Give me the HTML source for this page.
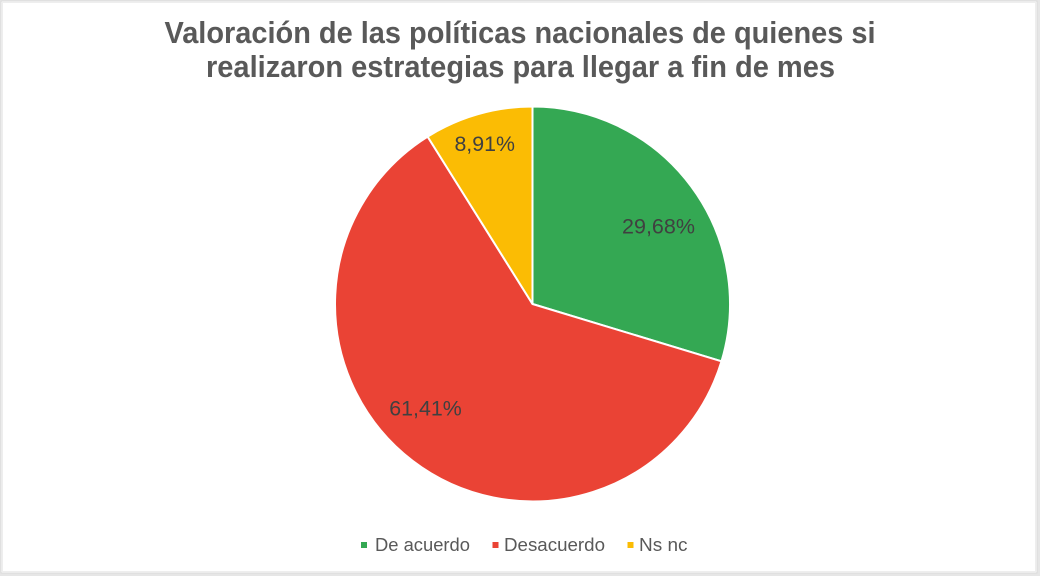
<!DOCTYPE html>
<html>
<head>
<meta charset="utf-8">
<style>
  html, body { margin: 0; padding: 0; background: #ffffff; }
  svg { display: block; }
  text { font-family: "Liberation Sans", Arial, sans-serif; }
</style>
</head>
<body>
<svg width="1040" height="576" viewBox="0 0 1040 576" xmlns="http://www.w3.org/2000/svg">
  <rect x="0" y="0" width="1040" height="576" fill="#e6e6e6"/>
  <rect x="1" y="1" width="1036" height="572" fill="#ffffff" stroke="#d9d9d9" stroke-width="1"/>
  <rect x="2.5" y="2.5" width="1033" height="569" fill="none" stroke="#eeeeee" stroke-width="1"/>

  <!-- Title -->
  <text x="520" y="43" text-anchor="middle" font-size="31" font-weight="bold" fill="#595959" textLength="711" lengthAdjust="spacingAndGlyphs">Valoración de las políticas nacionales de quienes si</text>
  <text x="520.5" y="77" text-anchor="middle" font-size="31" font-weight="bold" fill="#595959" textLength="629" lengthAdjust="spacingAndGlyphs">realizaron estrategias para llegar a fin de mes</text>

  <!-- Pie: center (532.5,304), r=197.5 -->
  <!-- Green 0 -> 106.85 deg -->
  <path d="M532.5,304 L532.5,106.5 A197.5,197.5 0 0,1 721.5,361.3 Z" fill="#34A853" stroke="#ffffff" stroke-width="2" stroke-linejoin="round"/>
  <!-- Red 106.85 -> 327.93 deg -->
  <path d="M532.5,304 L721.5,361.3 A197.5,197.5 0 1,1 427.6,136.6 Z" fill="#EA4335" stroke="#ffffff" stroke-width="2" stroke-linejoin="round"/>
  <!-- Yellow 327.93 -> 360 deg -->
  <path d="M532.5,304 L427.6,136.6 A197.5,197.5 0 0,1 532.5,106.5 Z" fill="#FBBC04" stroke="#ffffff" stroke-width="2" stroke-linejoin="round"/>

  <!-- Data labels -->
  <text x="658.5" y="233.5" text-anchor="middle" font-size="21.5" fill="#404040" textLength="73" lengthAdjust="spacingAndGlyphs">29,68%</text>
  <text x="484.7" y="151" text-anchor="middle" font-size="21.5" fill="#404040" textLength="60.5" lengthAdjust="spacingAndGlyphs">8,91%</text>
  <text x="425.5" y="415.5" text-anchor="middle" font-size="21.5" fill="#404040" textLength="72.5" lengthAdjust="spacingAndGlyphs">61,41%</text>

  <!-- Legend -->
  <rect x="361" y="542" width="6" height="6" fill="#34A853"/>
  <text x="375" y="551" font-size="18.5" fill="#595959" textLength="95" lengthAdjust="spacingAndGlyphs">De acuerdo</text>
  <rect x="492.5" y="542" width="6" height="6" fill="#EA4335"/>
  <text x="504" y="551" font-size="18.5" fill="#595959" textLength="101" lengthAdjust="spacingAndGlyphs">Desacuerdo</text>
  <rect x="627.5" y="542" width="6" height="6" fill="#FBBC04"/>
  <text x="639" y="551" font-size="18.5" fill="#595959" textLength="48.5" lengthAdjust="spacingAndGlyphs">Ns nc</text>
</svg>
</body>
</html>
